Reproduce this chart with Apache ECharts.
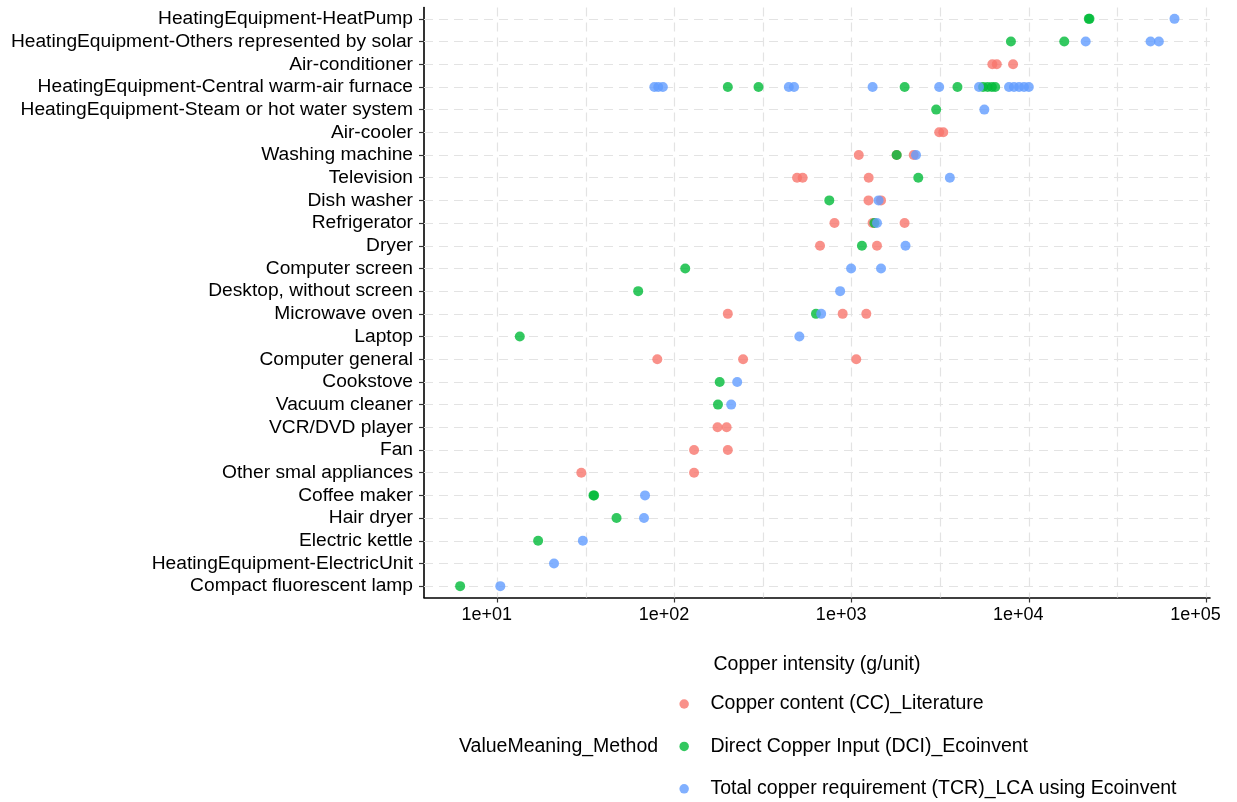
<!DOCTYPE html>
<html>
<head>
<meta charset="utf-8">
<script src="https://cdn.jsdelivr.net/npm/echarts@6/dist/echarts.min.js"></script>
<style>
html,body{margin:0;padding:0;background:#fff;}
#chart{width:1237px;height:802px;}
</style>
</head>
<body>
<div id="chart"></div>
<script>
const categories = [
  "HeatingEquipment-HeatPump",
  "HeatingEquipment-Others represented by solar",
  "Air-conditioner",
  "HeatingEquipment-Central warm-air furnace",
  "HeatingEquipment-Steam or hot water system",
  "Air-cooler",
  "Washing machine",
  "Television",
  "Dish washer",
  "Refrigerator",
  "Dryer",
  "Computer screen",
  "Desktop, without screen",
  "Microwave oven",
  "Laptop",
  "Computer general",
  "Cookstove",
  "Vacuum cleaner",
  "VCR/DVD player",
  "Fan",
  "Other smal appliances",
  "Coffee maker",
  "Hair dryer",
  "Electric kettle",
  "HeatingEquipment-ElectricUnit",
  "Compact fluorescent lamp"
];

const seriesNames = [
  "Copper content (CC)_Literature",
  "Direct Copper Input (DCI)_Ecoinvent",
  "Total copper requirement (TCR)_LCA using Ecoinvent"
];

// Copper content (CC)_Literature
const ccPoints = [
  ["Air-conditioner", 6225], ["Air-conditioner", 6595], ["Air-conditioner", 8150],
  ["Air-cooler", 3120], ["Air-cooler", 3290],
  ["Washing machine", 1097], ["Washing machine", 1795], ["Washing machine", 2240],
  ["Television", 492], ["Television", 529], ["Television", 1248],
  ["Dish washer", 1245], ["Dish washer", 1465],
  ["Refrigerator", 800], ["Refrigerator", 1313], ["Refrigerator", 1990],
  ["Dryer", 663], ["Dryer", 1390],
  ["Microwave oven", 200], ["Microwave oven", 890], ["Microwave oven", 1210],
  ["Computer general", 80], ["Computer general", 244], ["Computer general", 1062],
  ["VCR/DVD player", 175], ["VCR/DVD player", 197],
  ["Fan", 129], ["Fan", 200],
  ["Other smal appliances", 29.8], ["Other smal appliances", 129]
];

// Direct Copper Input (DCI)_Ecoinvent
const dciPoints = [
  ["HeatingEquipment-HeatPump", 21800], ["HeatingEquipment-HeatPump", 22000],
  ["HeatingEquipment-Others represented by solar", 7925], ["HeatingEquipment-Others represented by solar", 15850],
  ["HeatingEquipment-Central warm-air furnace", 200], ["HeatingEquipment-Central warm-air furnace", 298],
  ["HeatingEquipment-Central warm-air furnace", 1991], ["HeatingEquipment-Central warm-air furnace", 3956],
  ["HeatingEquipment-Central warm-air furnace", 5520], ["HeatingEquipment-Central warm-air furnace", 5855],
  ["HeatingEquipment-Central warm-air furnace", 6185], ["HeatingEquipment-Central warm-air furnace", 6457],
  ["HeatingEquipment-Steam or hot water system", 3000],
  ["Washing machine", 1795],
  ["Television", 2377],
  ["Dish washer", 748],
  ["Refrigerator", 1345],
  ["Dryer", 1143],
  ["Computer screen", 115],
  ["Desktop, without screen", 62.4],
  ["Microwave oven", 629],
  ["Laptop", 13.4],
  ["Cookstove", 180],
  ["Vacuum cleaner", 176],
  ["Coffee maker", 34.9], ["Coffee maker", 35.2],
  ["Hair dryer", 47.1],
  ["Electric kettle", 17.0],
  ["Compact fluorescent lamp", 6.17]
];

// Total copper requirement (TCR)_LCA using Ecoinvent
const tcrPoints = [
  ["HeatingEquipment-HeatPump", 66400],
  ["HeatingEquipment-Others represented by solar", 20940], ["HeatingEquipment-Others represented by solar", 48650],
  ["HeatingEquipment-Others represented by solar", 54200],
  ["HeatingEquipment-Central warm-air furnace", 77], ["HeatingEquipment-Central warm-air furnace", 81],
  ["HeatingEquipment-Central warm-air furnace", 86], ["HeatingEquipment-Central warm-air furnace", 442],
  ["HeatingEquipment-Central warm-air furnace", 473], ["HeatingEquipment-Central warm-air furnace", 1313],
  ["HeatingEquipment-Central warm-air furnace", 3119], ["HeatingEquipment-Central warm-air furnace", 5236],
  ["HeatingEquipment-Central warm-air furnace", 7730], ["HeatingEquipment-Central warm-air furnace", 8250],
  ["HeatingEquipment-Central warm-air furnace", 8810], ["HeatingEquipment-Central warm-air furnace", 9400],
  ["HeatingEquipment-Central warm-air furnace", 10000],
  ["HeatingEquipment-Steam or hot water system", 5610],
  ["Washing machine", 2308],
  ["Television", 3583],
  ["Dish washer", 1419],
  ["Refrigerator", 1390],
  ["Dryer", 2014],
  ["Computer screen", 993], ["Computer screen", 1465],
  ["Desktop, without screen", 861],
  ["Microwave oven", 673],
  ["Laptop", 507],
  ["Cookstove", 226],
  ["Vacuum cleaner", 209],
  ["Coffee maker", 68.2],
  ["Hair dryer", 67.3],
  ["Electric kettle", 30.4],
  ["HeatingEquipment-ElectricUnit", 20.9],
  ["Compact fluorescent lamp", 10.4]
];

const xTickValues = [10, 100, 1000, 10000, 100000];
const xTickLabels = ["1e+01", "1e+02", "1e+03", "1e+04", "1e+05"];
const xMinorGrid = [31.623, 316.23, 3162.3, 31623];
const xRange = [3.858, 105340];

const colors = ["#F8766D", "#00BA38", "#619CFF"];
const FONT = "'Liberation Sans', Arial, sans-serif";
const gridLine = { color: "#e3e3e3", width: 1.2, type: [9, 6] };

const chart = echarts.init(document.getElementById("chart"), null, { renderer: "canvas" });

function toData(points) { return points.map(p => [p[1], p[0]]); }

const pointSeries = [ccPoints, dciPoints, tcrPoints].map((pts, i) => ({
  name: seriesNames[i],
  type: "scatter",
  data: toData(pts),
  symbol: "circle",
  symbolSize: 10,
  z: 3,
  itemStyle: { color: colors[i], opacity: 0.8 },
  emphasis: { disabled: true }
}));

const gridSeries = {
  name: "__grid",
  type: "scatter",
  data: [],
  z: 1,
  silent: true,
  markLine: {
    silent: true,
    z: 1,
    symbol: ["none", "none"],
    label: { show: false },
    lineStyle: gridLine,
    emphasis: { disabled: true },
    animation: false,
    data: [
      ...xTickValues.map(v => ({ xAxis: v })),
      ...xMinorGrid.map(v => ({ xAxis: v })),
      ...categories.map(c => ({ yAxis: c }))
    ]
  }
};

chart.setOption({
  animation: false,
  color: colors,
  textStyle: { fontFamily: FONT },
  grid: { left: 424, right: 27, top: 7.5, height: 590, containLabel: false },
  xAxis: {
    type: "log",
    logBase: 10,
    min: xRange[0],
    max: xRange[1],
    name: "Copper intensity (g/unit)",
    nameLocation: "middle",
    nameGap: 57,
    nameTextStyle: { fontSize: 19.5, color: "#000", fontFamily: FONT },
    axisLine: { show: true, lineStyle: { color: "#000", width: 1.6 } },
    axisTick: { show: true, length: 5, lineStyle: { color: "#333", width: 1.2 } },
    axisLabel: {
      fontSize: 18, color: "#000", margin: 9, fontFamily: FONT,
      padding: [0, 21, 0, 0],
      showMinLabel: false, showMaxLabel: false,
      formatter: function (v) {
        for (let i = 0; i < xTickValues.length; i++) {
          if (Math.abs(v - xTickValues[i]) / xTickValues[i] < 1e-6) return xTickLabels[i];
        }
        return "";
      }
    },
    splitLine: { show: false },
    minorSplitLine: { show: false }
  },
  yAxis: {
    type: "category",
    data: categories,
    inverse: true,
    boundaryGap: true,
    axisLine: { show: true, lineStyle: { color: "#000", width: 1.6 } },
    axisTick: { show: true, alignWithLabel: true, length: 5, lineStyle: { color: "#333", width: 1.2 } },
    axisLabel: { fontSize: 19.2, color: "#000", margin: 11, fontFamily: FONT, interval: 0 },
    splitLine: { show: false }
  },
  legend: {
    data: seriesNames,
    orient: "vertical",
    left: 679.4,
    top: 694,
    height: 120,
    padding: 0,
    itemWidth: 42.6,
    itemHeight: 9.5,
    itemGap: 22.4,
    icon: "circle",
    selectedMode: false,
    textStyle: { fontSize: 19.5, color: "#000", fontFamily: FONT, lineHeight: 20 }
  },
  graphic: [{
    type: "text",
    left: 459,
    top: 737,
    style: { text: "ValueMeaning_Method", fontSize: 19.5, fill: "#000", fontFamily: FONT }
  }],
  series: [gridSeries, ...pointSeries]
});
</script>
</body>
</html>
